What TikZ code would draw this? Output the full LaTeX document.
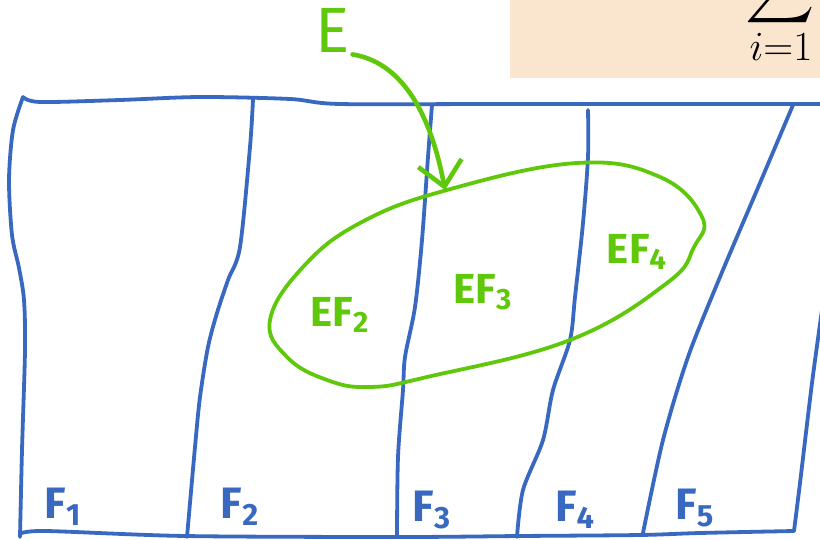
\documentclass[tikz,border=0pt]{standalone}
\usepackage{fontspec}
\usepackage{graphicx}
\setsansfont{Fira Sans}
\definecolor{stift}{RGB}{56,104,192}
\definecolor{marker}{RGB}{96,200,10}
\definecolor{papier}{RGB}{250,229,206}
\usetikzlibrary{arrows.meta}

\begin{document}
\begin{tikzpicture}[x=0.5pt, y=-0.5pt,
			rand/.style={draw=stift, line width=1.9pt, line cap=round, line join=round},
			menge/.style={draw=marker, line width=1.9pt, line cap=round, line join=round},
			lbl/.style={inner sep=1pt, font=\sffamily\bfseries\fontsize{22}{24}\selectfont},
			>={Straight Barb[length=12pt,width=22pt]}]   %Pfeilspitze
			\useasboundingbox (0,0) rectangle (820,540);
			% Formelkasten oben rechts
			\fill[papier] (510,0) rectangle (820,78);
			\begin{scope}
				\clip (510,0) rectangle (820,78);
				\node[anchor=south, inner sep=0pt] (klammer) at (619,1) {\scalebox{2.4}{$(\enspace)$}};
				\node[anchor=south east, inner sep=0pt] (summe) at (815,28) {\scalebox{2.4}{$\displaystyle\sum$}};
				\node[anchor=north, inner sep=0pt, font=\fontsize{22}{26}\selectfont] (index) at (781,33) {$i{=}1$};
			\end{scope}
			% Rahmen zeichnen
			\draw[rand] plot[smooth] coordinates {(23,97) (40,102) (120,100) (200,97) (290,99) (340,104) (500,104) (822,104)};
			\draw[rand] plot[smooth] coordinates {(23,97) (13,130) (9,180) (12,235) (19,268) (24,300) (25,350) (22,450) (20,537)};
			\draw[rand] plot[smooth] coordinates {(20,534) (45,531) (185,536) (400,537) (520,536) (640,535) (700,533) (794,531)};
			\draw[rand] plot[smooth] coordinates {(822,310) (812,383) (800,483) (794,531)};
			% Zerlegung F_1 ... F_5
			\draw[rand] plot[smooth] coordinates {(253,99) (250,147) (240,247) (228,280) (217,313) (208,347) (200,397) (195,447) (187,537)};
			\draw[rand] plot[smooth] coordinates {(432,105) (428,157) (422,240) (415,307) (405,357) (403,390) (398,457) (397,537)};
			\draw[rand] plot[smooth] coordinates {(588,110) (588,157) (583,223) (575,297) (570,340) (553,390) (543,440) (523,490) (517,537)};
			\draw[rand] plot[smooth] coordinates {(793,105) (757,190) (720,277) (688,357) (663,440) (643,533)};
			% Beschriftung
			\node[lbl, text=stift] (f1) at (63,507) {F\textsubscript{1}};
			\node[lbl, text=stift] (f2) at (240,507) {F\textsubscript{2}};
			\node[lbl, text=stift] (f3) at (432,510) {F\textsubscript{3}};
			\node[lbl, text=stift] (f4) at (575,510) {F\textsubscript{4}};
			\node[lbl, text=stift] (f5) at (695,508) {F\textsubscript{5}};
			% Ereignis E
			\draw[menge] plot[smooth cycle, tension=0.7] coordinates {(447,190) (577,163) (660,177) (702,217) (694,247) (667,283) (570,340) (427,377) (370,387) (327,380) (287,357) (270,320) (303,267) (360,223)};
			\node[lbl, text=marker, font=\sffamily\bfseries\fontsize{21}{24}\selectfont] (ef2) at (340,315) {EF\textsubscript{2}};
			\node[lbl, text=marker, font=\sffamily\bfseries\fontsize{21}{24}\selectfont] (ef3) at (483,292) {EF\textsubscript{3}};
			\node[lbl, text=marker, font=\sffamily\bfseries\fontsize{21}{24}\selectfont] (ef4) at (637,252) {EF\textsubscript{4}};
			\node[lbl, text=marker, font=\sffamily\fontsize{32}{36}\selectfont] (E) at (333,30) {E};
			\coordinate (treffer) at (445,190);
			\draw[menge, line width=2.3pt, ->] (E.south east) .. controls (400,62) and (430,110) .. (treffer);
		\end{tikzpicture}
\end{document}
